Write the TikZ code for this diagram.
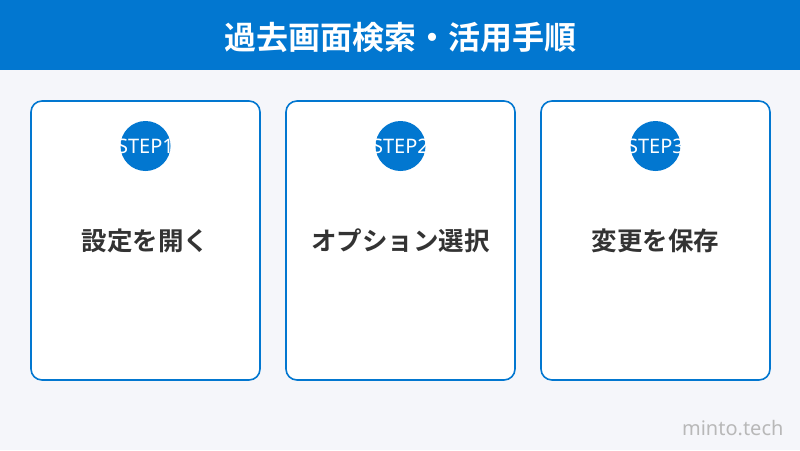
\documentclass[tikz,border=0pt]{standalone}
\usepackage{fontspec}
\newfontfamily\jpb{Noto Sans CJK JP Bold}
\newfontfamily\lat{Noto Sans}
\definecolor{bg}{HTML}{F5F6FA}
\definecolor{mainblue}{HTML}{0277D0}
\definecolor{txt}{HTML}{333333}
\definecolor{wm}{HTML}{B8B8B8}
\tikzset{
  card/.style={draw=mainblue, line width=1.6pt, fill=white, rounded corners=11pt, minimum width=229pt, minimum height=279pt, inner sep=0pt},
  badge/.style={circle, fill=mainblue, minimum size=50pt, inner sep=0pt},
  badgetext/.style={text=white, font=\lat\fontsize{20}{22}\selectfont},
  label/.style={text=txt, font=\jpb\fontsize{25.5}{30}\selectfont},
}
\begin{document}
\begin{tikzpicture}[x=1pt,y=-1pt]
\fill[bg] (0,0) rectangle (800,450);
\useasboundingbox (0,0) rectangle (800,450);
\fill[mainblue] (0,0) rectangle (800,70);
\node[text=white, font=\jpb\fontsize{32}{36}\selectfont] (title) at (400,37) {過去画面検索・活用手順};
\foreach \i/\x/\t in {1/145.5/設定を開く, 2/400.5/オプション選択, 3/655.5/変更を保存}{
  \node[card] (card\i) at (\x,240.5) {};
  \node[badge] (badge\i) at (\x,146) {};
  \node[badgetext] (bt\i) at (\x,146) {STEP\i};
  \node[label] (lab\i) at (\x,241) {\t};
}
\node[text=wm, font=\lat\fontsize{20}{22}\selectfont, anchor=east] (wm) at (787,428) {minto.tech};
\end{tikzpicture}
\end{document}
